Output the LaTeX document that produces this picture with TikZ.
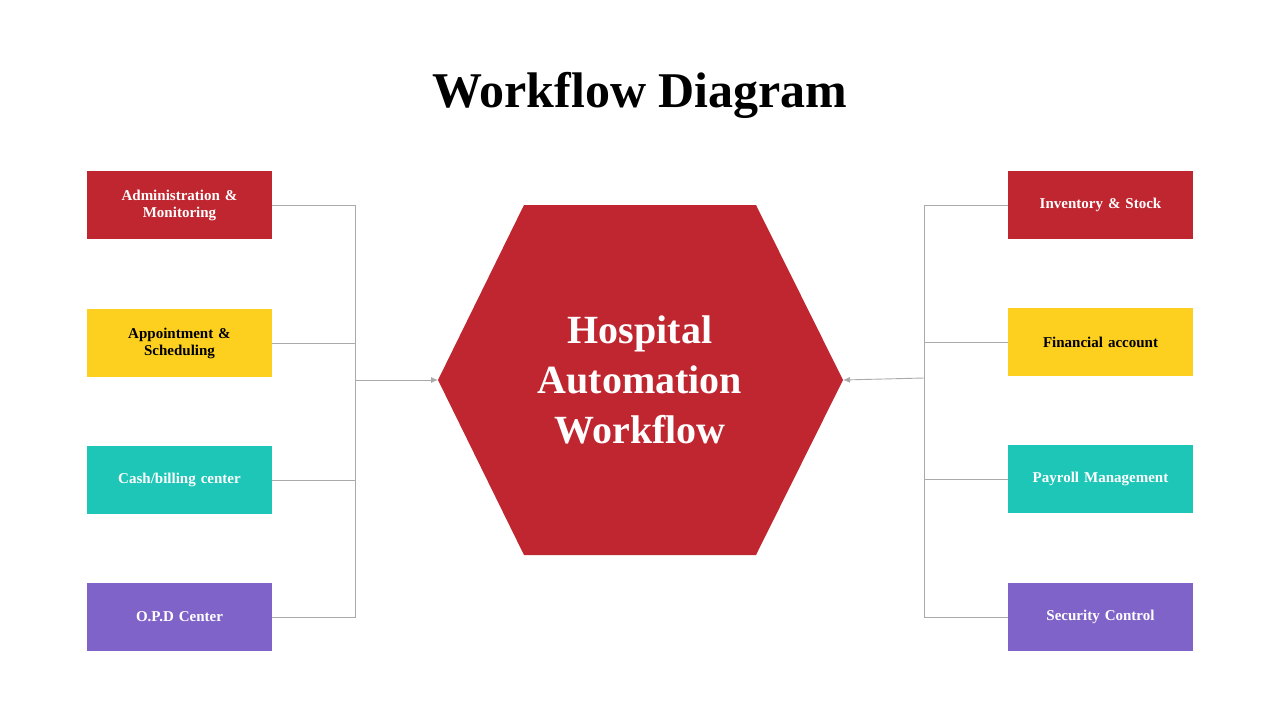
\documentclass[tikz,border=0pt]{standalone}
\usepackage{fontspec}
\setmainfont{Liberation Serif}
\definecolor{cred}{HTML}{C0262F}
\definecolor{cyel}{HTML}{FDD01F}
\definecolor{cteal}{HTML}{1EC6B8}
\definecolor{cpur}{HTML}{7F63C8}
\definecolor{cline}{HTML}{AAAAAA}
\begin{document}
\begin{tikzpicture}[x=1pt,y=-1pt,
  box/.style={minimum width=185pt,minimum height=68pt,inner sep=0pt,align=center,font=\bfseries\fontsize{15}{17}\selectfont,text width=170pt},
  conn/.style={draw=cline,line width=0.9pt},
  arr/.style={conn,-{Latex[length=7pt,width=6pt]}}]
\usetikzlibrary{arrows.meta}
\useasboundingbox (0,0) rectangle (1280,720);
\node[font=\bfseries\fontsize{50}{56}\selectfont] (title) at (640,95) {Workflow Diagram};
\fill[cred] (524,205) coordinate (h1) -- (756,205) -- (843,380) coordinate (hr) -- (756,555) -- (524,555) -- (438,380) coordinate (hl) -- cycle;
\node[align=center,text=white,font=\bfseries\fontsize{40}{50}\selectfont] (hex) at (640,380) {Hospital\\Automation\\Workflow};
\node[box,fill=cred,text=white] (l1) at (179.5,205) {Administration \&\\Monitoring};
\node[box,fill=cyel] (l2) at (179.5,343) {Appointment \&\\Scheduling};
\node[box,fill=cteal,text=white] (l3) at (179.5,480) {Cash/billing center};
\node[box,fill=cpur,text=white] (l4) at (179.5,617) {O.P.D Center};
\node[box,fill=cred,text=white] (r1) at (1100.5,205) {Inventory \& Stock};
\node[box,fill=cyel] (r2) at (1100.5,342) {Financial account};
\node[box,fill=cteal,text=white] (r3) at (1100.5,479) {Payroll Management};
\node[box,fill=cpur,text=white] (r4) at (1100.5,617) {Security Control};
\coordinate (lj) at (355,380);
\coordinate (rj) at (924,378);
\foreach \n in {l1,l2,l3,l4} \draw[conn] (\n.east) -- (\n.east -| lj) -- (lj);
\foreach \n in {r1,r2,r3,r4} \draw[conn] (\n.west) -- (\n.west -| rj) -- (rj);
\draw[arr] (lj) -- (hl);
\draw[arr] (rj) -- (hr);
\end{tikzpicture}
\end{document}
